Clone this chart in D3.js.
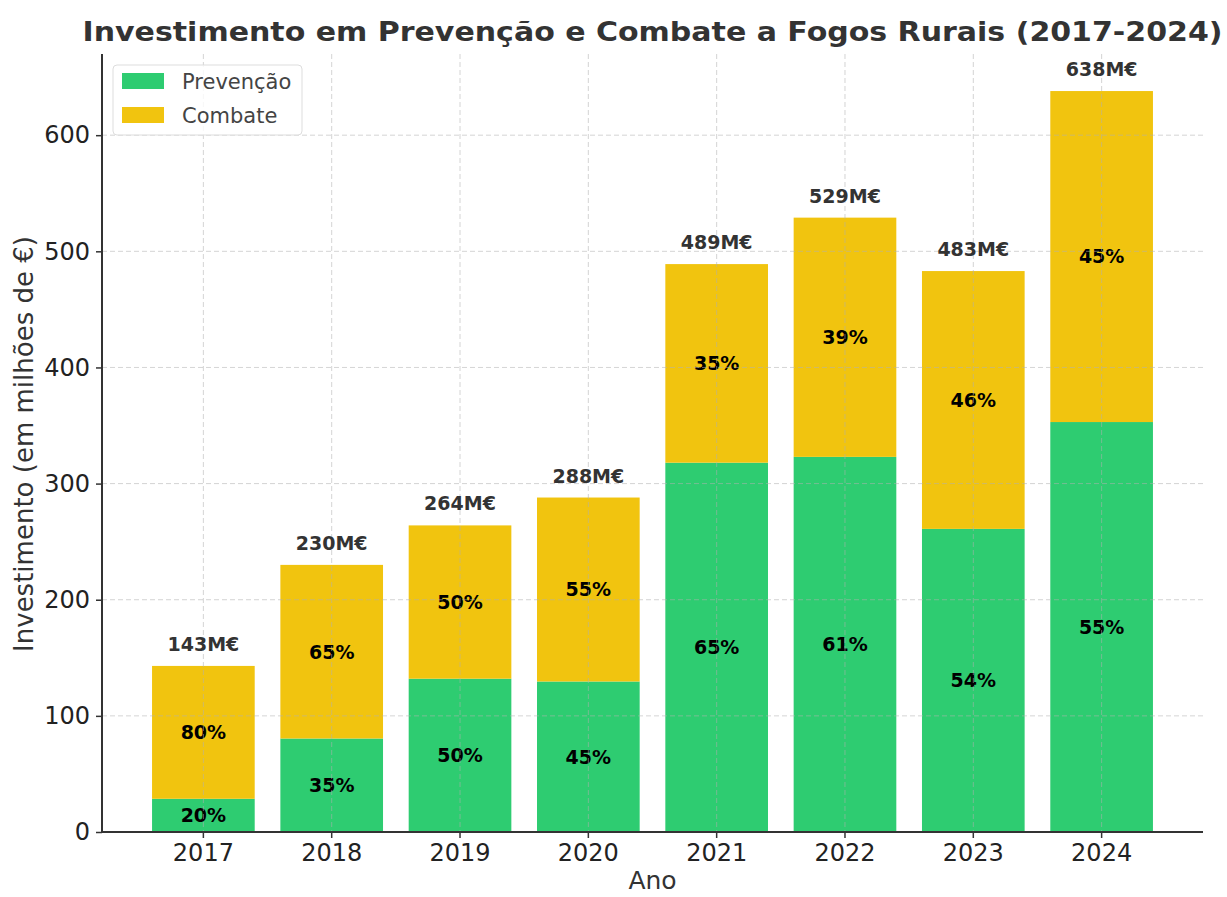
<!DOCTYPE html>
<html><head><meta charset="utf-8">
<script src="https://cdn.jsdelivr.net/npm/d3@7"></script>
<style>body{margin:0;background:#fff;} svg{display:block;}</style>
</head><body>
<script>
const years = ["2017","2018","2019","2020","2021","2022","2023","2024"];
const prevencao = [28.6, 80.5, 132, 129.6, 318, 323, 261, 353];
const combate = [114.4, 149.5, 132, 158.4, 171, 206, 222, 285];
const seriesNames = ["Prevenção", "Combate"];
const seriesColors = ["#2ecc71", "#f1c40f"];
const yTicks = [0, 100, 200, 300, 400, 500, 600];
const titleText = "Investimento em Prevenção e Combate a Fogos Rurais (2017-2024)";

const W = 1227, H = 897;
const m = {left: 102, right: 24, top: 54, bottom: 65};
const svg = d3.select("body").append("svg").attr("width", W).attr("height", H);
const font = "DejaVu Sans, sans-serif";

const rows = years.map((y, i) => ({year: y, Prevenção: prevencao[i], Combate: combate[i], total: prevencao[i] + combate[i]}));
const stack = d3.stack().keys(seriesNames)(rows);
const maxTotal = d3.max(rows, d => d.total);

const x = d3.scaleBand().domain(years).range([m.left, W - m.right]).paddingInner(0.2).paddingOuter(0.39);
const y = d3.scaleLinear().domain([0, maxTotal * 1.05]).range([H - m.bottom, m.top]);

// bars
const g = svg.append("g");
stack.forEach((s, si) => {
  g.selectAll(".b" + si).data(s).enter().append("rect")
    .attr("x", d => x(d.data.year)).attr("width", x.bandwidth())
    .attr("y", d => y(d[1])).attr("height", d => y(d[0]) - y(d[1]))
    .attr("fill", seriesColors[si]);
});

// grid (drawn over bars like matplotlib default zorder)
const grid = svg.append("g").attr("stroke", "#b0b0b0").attr("stroke-opacity", 0.55).attr("stroke-width", 1).attr("stroke-dasharray", "5,3");
yTicks.forEach(t => grid.append("line").attr("x1", m.left).attr("x2", W - m.right).attr("y1", y(t)).attr("y2", y(t)));
years.forEach(yr => grid.append("line").attr("x1", x(yr) + x.bandwidth()/2).attr("x2", x(yr) + x.bandwidth()/2).attr("y1", m.top).attr("y2", H - m.bottom));

// segment labels
stack.forEach((s, si) => {
  g.selectAll(".l" + si).data(s).enter().append("text")
    .attr("x", d => x(d.data.year) + x.bandwidth()/2)
    .attr("y", d => (y(d[0]) + y(d[1]))/2)
    .attr("dy", "0.36em").attr("text-anchor", "middle")
    .attr("font-family", font).attr("font-weight", "bold").attr("font-size", 19).attr("fill", "#000")
    .text(d => Math.round((d[1] - d[0]) / d.data.total * 100) + "%");
});
// total labels
svg.selectAll(".tot").data(rows).enter().append("text")
  .attr("x", d => x(d.year) + x.bandwidth()/2).attr("y", d => y(d.total) - 15)
  .attr("text-anchor", "middle").attr("font-family", font).attr("font-weight", "bold")
  .attr("font-size", 19).attr("fill", "#333")
  .text(d => Math.round(d.total) + "M€");

// axes
const xAxis = svg.append("g").attr("transform", `translate(0,${H - m.bottom})`)
  .call(d3.axisBottom(x).tickSize(6).tickPadding(6));
const yAxis = svg.append("g").attr("transform", `translate(${m.left},0)`)
  .call(d3.axisLeft(y).tickValues(yTicks).tickSize(6).tickPadding(6));
[xAxis, yAxis].forEach(a => {
  a.selectAll("text").attr("font-family", font).attr("font-size", 24).attr("fill", "#222");
  a.selectAll("line").attr("stroke", "#333").attr("stroke-width", 1.5);
  a.select(".domain").attr("stroke", "#333").attr("stroke-width", 2);
});
xAxis.select(".domain").attr("d", `M${m.left},0H${W - m.right}`);
yAxis.select(".domain").attr("d", `M0,${m.top}V${H - m.bottom}`);

// axis labels
svg.append("text").attr("x", (m.left + W - m.right)/2).attr("y", 889)
  .attr("text-anchor", "middle").attr("font-family", font).attr("font-size", 25).attr("fill", "#333").text("Ano");
svg.append("text").attr("transform", `translate(33,${(m.top + H - m.bottom)/2 + 1}) rotate(-90)`)
  .attr("text-anchor", "middle").attr("font-family", font).attr("font-size", 26).attr("fill", "#333")
  .text("Investimento (em milhões de €)");

// title
svg.append("text").attr("x", (m.left + W - m.right)/2).attr("y", 41)
  .attr("text-anchor", "middle").attr("font-family", font).attr("font-weight", "bold").attr("font-size", 27)
  .attr("fill", "#333").attr("textLength", 1140).attr("lengthAdjust", "spacingAndGlyphs").text(titleText);

// legend
const lg = svg.append("g").attr("transform", "translate(113,65)");
lg.append("rect").attr("width", 189).attr("height", 70).attr("rx", 4).attr("fill", "#fff").attr("fill-opacity", 0.8).attr("stroke", "#ddd");
seriesNames.forEach((n, i) => {
  lg.append("rect").attr("x", 9).attr("y", 8 + i*34).attr("width", 42).attr("height", 16).attr("fill", seriesColors[i]);
  lg.append("text").attr("x", 69).attr("y", 16 + i*34).attr("dy", "0.36em").attr("font-family", font).attr("font-size", 21).attr("fill", "#444").text(n);
});
</script>
</body></html>
